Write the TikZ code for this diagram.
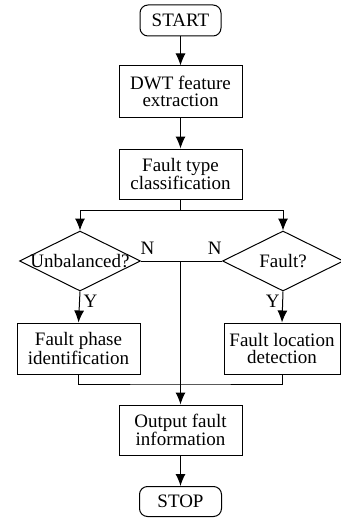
\documentclass[tikz,border=0pt]{standalone}
\usepackage{fontspec}
\setmainfont{Liberation Serif}
\usetikzlibrary{shapes.geometric,arrows.meta}
\begin{document}
\begin{tikzpicture}[x=1pt,y=-1pt,
  every node/.style={font=\fontsize{19}{17}\selectfont, inner sep=0pt},
  box/.style={draw, rectangle, align=center, line width=1pt},
  term/.style={draw, rectangle, rounded corners=8pt, line width=1pt},
  dia/.style={draw, diamond, line width=1pt, minimum width=121pt, minimum height=60pt},
  arr/.style={-{Latex[length=12pt,width=10pt]}},
  line width=1pt]
\useasboundingbox (0,0) rectangle (340,519);
\node[term, minimum width=81pt, minimum height=31pt] (start) at (180.5,20.5) {START};
\node[box, minimum width=123pt, minimum height=51pt] (dwt) at (180.5,91.5) {DWT feature\\extraction};
\node[box, minimum width=123pt, minimum height=50pt] (ftc) at (180.5,174) {Fault type\\classification};
\node[dia, label=center:{Unbalanced?}] (unb) at (80,261) {};
\node[dia, label=center:{Fault?}] (flt) at (283,261) {};
\node[box, minimum width=123pt, minimum height=51pt] (fpi) at (78.5,348.5) {Fault phase\\identification};
\node[box, minimum width=116pt, minimum height=51pt] (fld) at (282,348.5) {Fault location\\detection};
\node[box, minimum width=123pt, minimum height=50pt] (out) at (180.5,430) {Output fault\\information};
\node[term, minimum width=82pt, minimum height=30pt] (stop) at (180.5,501.5) {STOP};
\coordinate (fork) at (180.5,210);
\coordinate (mid) at (180.5,261);
\coordinate (merge) at (180.5,384);
\draw[arr] (start) -- (dwt);
\draw[arr] (dwt) -- (ftc);
\draw (ftc.south) -- (fork);
\draw[arr] (fork) -| (unb.north);
\draw[arr] (fork) -| (flt.north);
\draw (unb.east) -- (flt.west);
\draw[arr] (mid) -- (out.north);
\draw[arr] (unb.south) -- (fpi.north);
\draw[arr] (flt.south) -- (fld.north);
\draw (fpi.south) |- (merge) -| (fld.south);
\draw[arr] (out) -- (stop);
\node[anchor=south west] (nl) at ([xshift=-1pt,yshift=6pt]unb.east) {N};
\node[anchor=south east] (nr) at ([xshift=0pt,yshift=6pt]flt.west) {N};
\node[anchor=north west] (yl) at ([xshift=3pt,yshift=-3pt]unb.south) {Y};
\node[anchor=north east] (yr) at ([xshift=-3pt,yshift=-3pt]flt.south) {Y};
\end{tikzpicture}
\end{document}
